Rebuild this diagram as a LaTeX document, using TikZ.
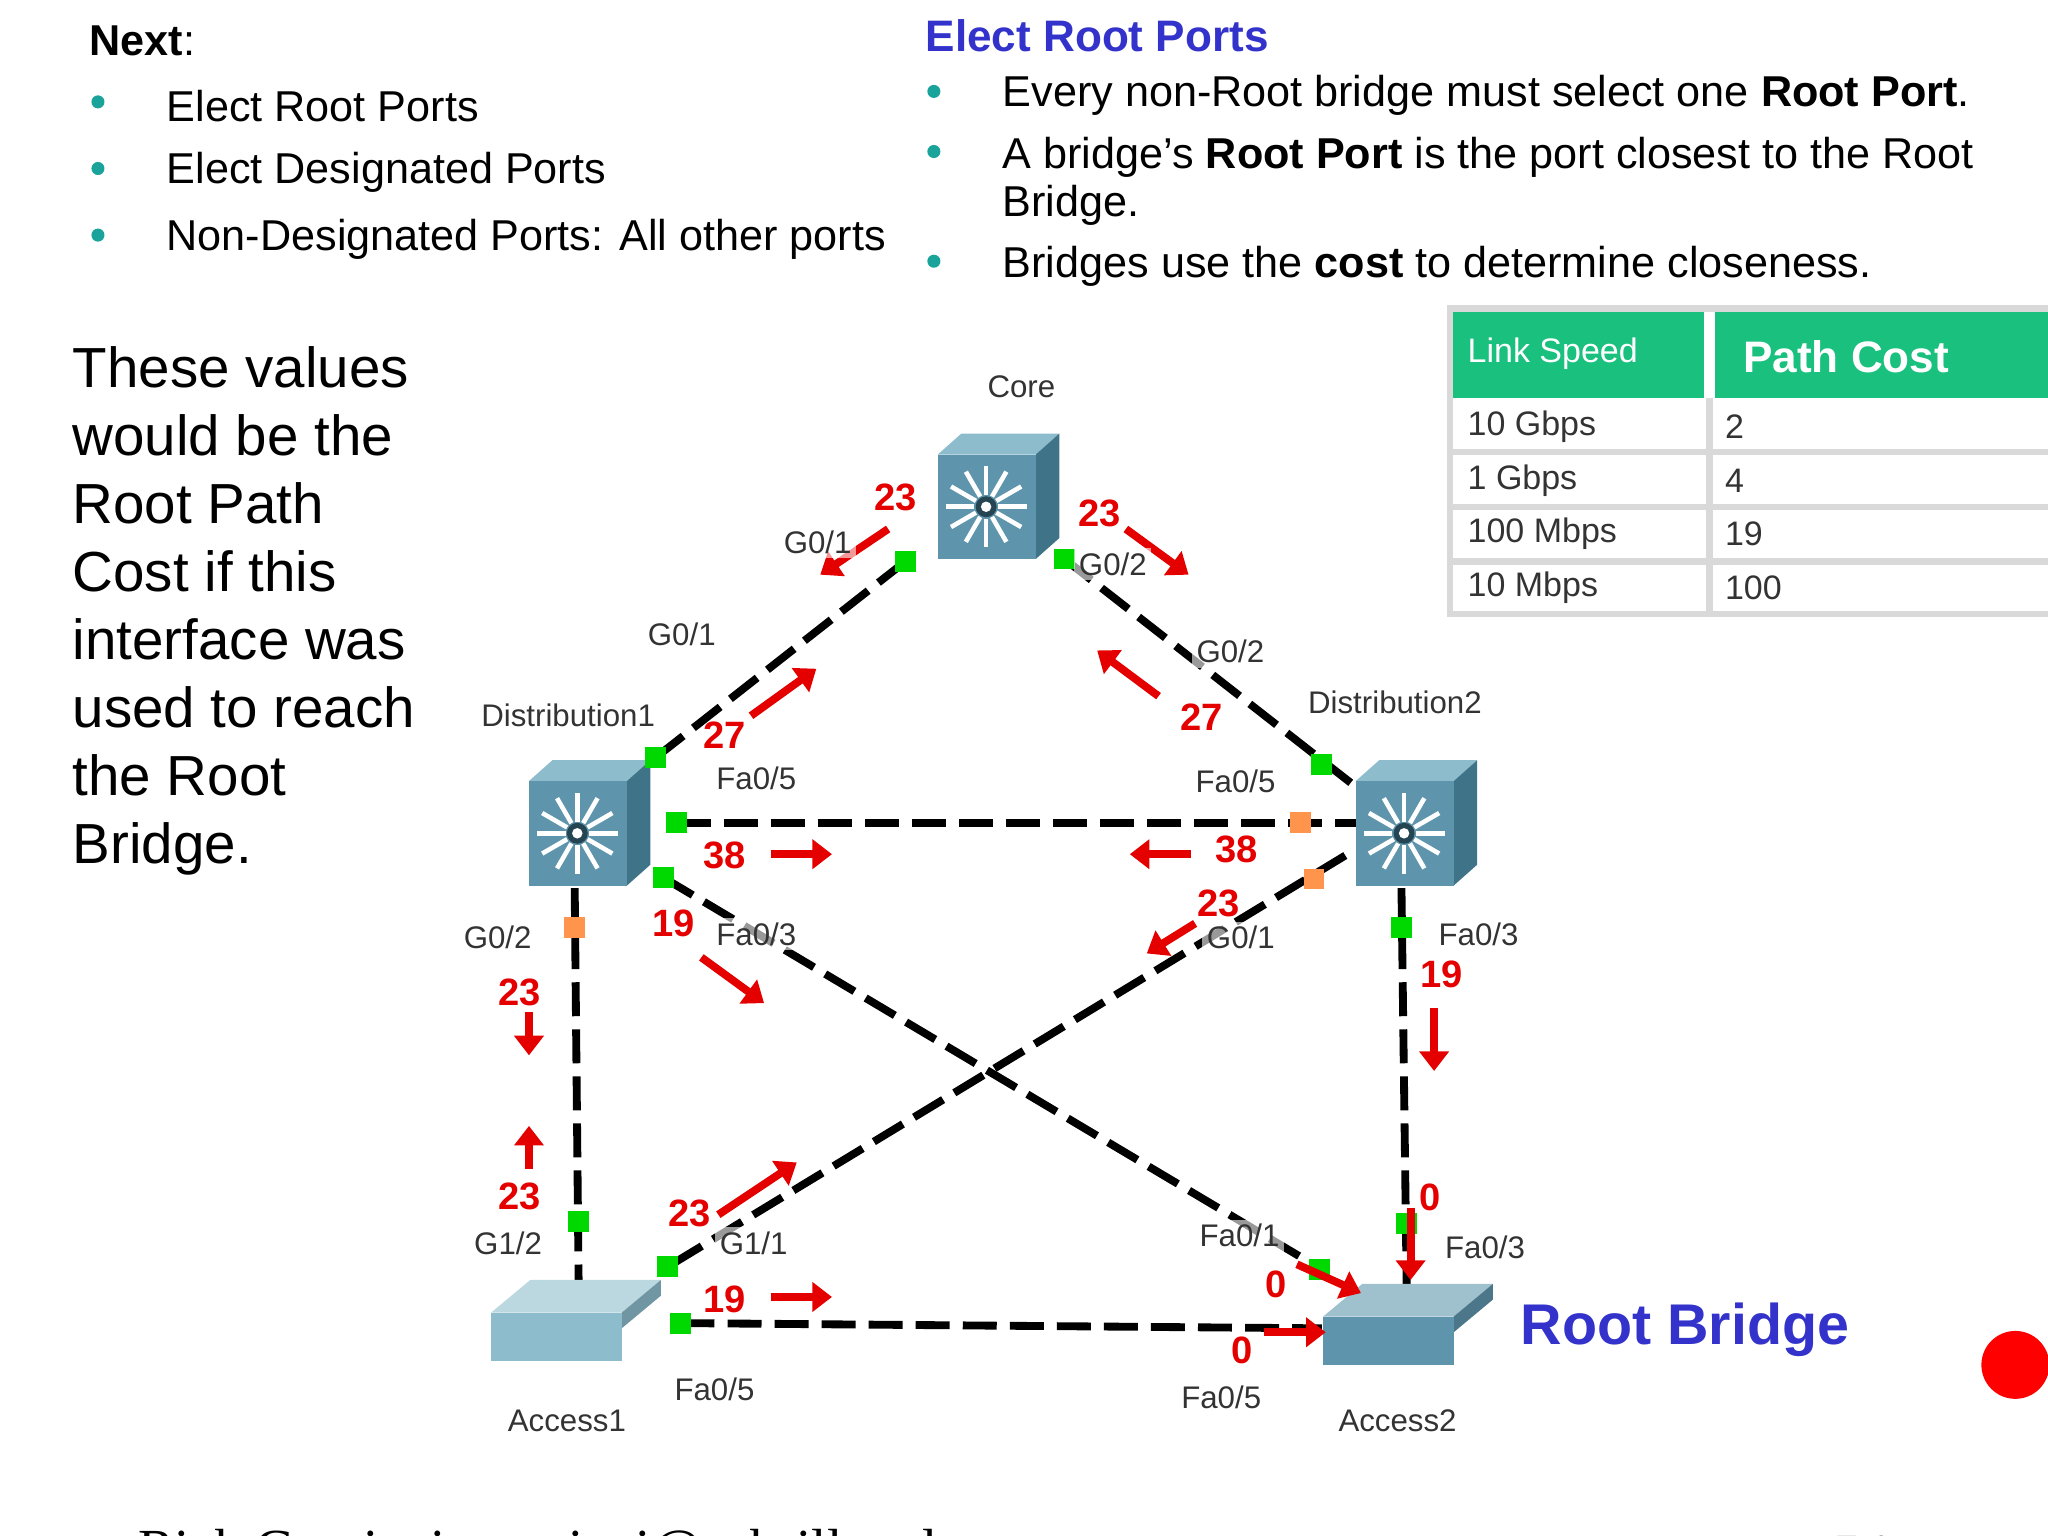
\documentclass[tikz,border=0pt]{standalone}
\usepackage{fontspec}
\setmainfont{Liberation Sans}
\newfontfamily\serifF{Liberation Serif}
\usetikzlibrary{arrows.meta}
\definecolor{teal1}{HTML}{1AA39A}
\definecolor{blu}{HTML}{3333CC}
\definecolor{grn}{HTML}{19C07E}
\definecolor{sw1}{HTML}{5F95AC}
\definecolor{sw2}{HTML}{8DBCCC}
\definecolor{sw3}{HTML}{3E7388}
\begin{document}
\begin{tikzpicture}[x=0.01cm,y=-0.01cm,
 lnk/.style={line width=0.6mm,dash pattern=on 2.6mm off 1mm,black},
 gp/.style={fill=green!85!black,minimum size=1.6mm,inner sep=0pt},
 op/.style={fill=orange!80!red!70,minimum size=1.6mm,inner sep=0pt},
 ra/.style={red!90!black,line width=0.6mm,-{Triangle[length=1.5mm,width=2.2mm]}},
 rn/.style={text=red!90!black,font=\fontsize{8.3}{9}\selectfont\bfseries,inner sep=0pt},
 cl/.style={font=\fontsize{6.8}{8}\selectfont,text=black!80,inner sep=0pt},
 bt/.style={font=\fontsize{9.4}{10.6}\selectfont,anchor=west,inner sep=0pt,align=left},
 bul/.style={circle,fill=teal1,minimum size=1mm,inner sep=0pt}]
\useasboundingbox (0,0) rectangle (1568,1176);
\clip (0,0) rectangle (1568,1176);
% top text
\node[bt] (nx) at (68,31) {\textbf{Next}:};
\foreach \y/\t [count=\i] in {81/Elect Root Ports,132/Elect Designated Ports,183/Non-Designated Ports: All other ports}{
 \node[bul] (lb\i) at (75,\y-3) {};
 \node[bt] (lt\i) at (127,\y) {\t};}
\fill[white] (694,150) rectangle (708,215);
\node[bt,text=blu,font=\fontsize{9.6}{11}\selectfont\bfseries] (er) at (708,27) {Elect Root Ports};
\node[bul] (rb1) at (715,70) {}; \node[bul] (rb2) at (715,116) {}; \node[bul] (rb3) at (715,200) {};
\node[bt] (r1) at (767,73) {Every non-Root bridge must select one \textbf{Root Port}.};
\node[bt,anchor=north west] (r2) at (767,104) {A bridge’s \textbf{Root Port} is the port closest to the Root\\Bridge.};
\node[bt] (r3) at (767,204) {Bridges use the \textbf{cost} to determine closeness.};
\node[anchor=north west,font=\fontsize{12.3}{14.8}\selectfont,align=left,inner sep=0pt] (lt) at (55,265)
 {These values\\would be the\\Root Path\\Cost if this\\interface was\\used to reach\\the Root\\Bridge.};
% table
\fill[grn] (1110,236) rectangle (1568,305);
\draw[white,line width=0.8mm] (1309,236) -- (1309,305);
\draw[black!15,line width=0.5mm] (1110,236) rectangle (1575,470);
\foreach \y in {346,388,430}{\draw[black!15,line width=0.5mm] (1110,\y) -- (1568,\y);}
\draw[black!15,line width=0.5mm] (1309,305) -- (1309,470);
\node[cl,anchor=west,text=white,font=\fontsize{7.4}{8}\selectfont] (h1) at (1123,271) {Link Speed};
\node[anchor=west,text=white,font=\fontsize{9.6}{10}\selectfont\bfseries,inner sep=0pt] (h2) at (1334,273) {Path Cost};
\foreach \y/\a/\b in {327/10 Gbps/2,368/1 Gbps/4,409/100 Mbps/19,450/10 Mbps/100}{
 \node[cl,anchor=west,font=\fontsize{7.4}{8}\selectfont] at (1123,\y) {\a};
 \node[cl,anchor=west,font=\fontsize{7.4}{8}\selectfont] at (1320,\y) {\b};}
% links
\draw[lnk] (693,430) -- (502,580);
\draw[lnk] (815,428) -- (1035,600);
\draw[lnk] (518,630) -- (1040,630);
\draw[lnk] (508,672) -- (1012,972);
\draw[lnk] (1030,655) -- (511,970);
\draw[lnk] (440,680) -- (443,980);
\draw[lnk] (1073,680) -- (1077,985);
\draw[lnk] (521,1013) -- (1012,1017);
% switches
\newcommand\mlsw[3]{%
 \fill[sw2] (#1,#2) -- ++(18,-16) -- ++(75,0) -- ++(-18,16) -- cycle;
 \fill[sw3] (#1+75,#2) -- ++(18,-16) -- ++(0,80) -- ++(-18,16) -- cycle;
 \fill[sw1] (#1,#2) rectangle ++(75,80);
 \coordinate (#3) at (#1+37,#2+40);
 \foreach \a in {0,30,...,330}{\draw[white,line width=0.35mm] (#1+37,#2+40) ++(\a:0.9mm) -- ++(\a:2.2mm);}
 \fill[sw3!60!black] (#1+37,#2+40) circle (8);
 \fill[white] (#1+37,#2+40) circle (4);}
\mlsw{718}{348}{core}
\mlsw{405}{598}{d1}
\mlsw{1038}{598}{d2}
\newcommand\acsw[4]{%
 \fill[#4!60!white] (#1,#2) -- ++(30,-25) -- ++(100,0) -- ++(-30,25) -- cycle;
 \fill[#4!80!black] (#1+100,#2) -- ++(30,-25) -- ++(0,12) -- ++(-30,25) -- cycle;
 \fill[#4] (#1,#2) rectangle ++(100,37) coordinate (#3);}
\acsw{376}{1005}{a1}{sw2}
\acsw{1013}{1008}{a2}{sw1}
% ports
\foreach \p in {(693,430),(815,428),(502,580),(518,630),(508,672),(1012,585),(1073,710),(443,935),(511,970),(521,1013),(1077,937),(1010,972)}{\node[gp] at \p {};}
\foreach \p in {(440,710),(996,630),(1006,673)}{\node[op] at \p {};}
% arrows
\foreach \a/\b/\n/\l in {680/405/628/440, 862/405/910/440, 575/548/625/512, 887/533/840/498, 590/654/637/654, 912/654/865/654, 537/733/585/768, 915/707/878/730, 405/775/405/808, 405/895/405/862, 1098/772/1098/820, 550/930/610/890, 590/993/637/993, 1080/925/1080/980, 993/968/1042/990, 968/1020/1015/1020}{\draw[ra] (\a,\b) -- (\n,\l);}
\foreach \x/\y/\t in {686/381/23,842/393/23,555/563/27,920/549/27,555/655/38,947/650/38,516/707/19,933/692/23,398/760/23,398/916/23,1104/746/19,528/929/23,555/995/19,1095/917/0,977/983/0,951/1034/0}{\node[rn] at (\x,\y) {\t};}
% labels
\foreach \x/\y/\t in {782/296/Core,626/415/{G0/1},852/432/{G0/2},522/486/{G0/1},942/499/{G0/2},435/548/Distribution1,1068/538/Distribution2,579/596/{Fa0/5},946/598/{Fa0/5},579/715/{Fa0/3},950/718/{G0/1},1132/715/{Fa0/3},381/718/{G0/2},389/952/{G1/2},577/952/{G1/1},949/946/{Fa0/1},1137/955/{Fa0/3},547/1064/{Fa0/5},935/1070/{Fa0/5},434/1088/Access1,1070/1088/Access2}{\node[cl,fill=white,fill opacity=0.6,text opacity=1,inner sep=1pt] at (\x,\y) {\t};}
\node[text=blu,font=\fontsize{12.5}{14}\selectfont\bfseries,inner sep=0pt] (rbr) at (1290,1018) {Root Bridge};
\fill[red] (1543,1045) circle (26);
\node[anchor=west,font=\serifF\fontsize{12}{13}\selectfont,inner sep=0pt] (ft) at (105,1190) {Rick Graziani \ graziani@cabrillo.edu};
\node[font=\serifF\fontsize{12}{13}\selectfont,inner sep=0pt] (pg) at (1425,1190) {54};
\end{tikzpicture}
\end{document}
